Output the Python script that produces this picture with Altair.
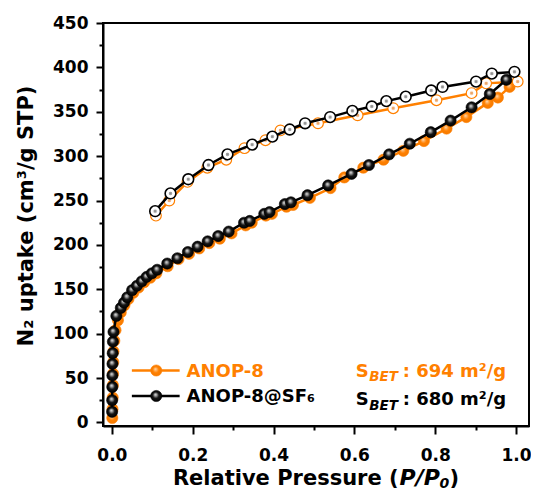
import altair as alt
import pandas as pd

ORANGE = "#ff8000"

# ---------------- data ----------------
# ANOP-8 : adsorption (filled) and desorption (open)
anop_ads_p = [0.001, 0.0015, 0.002, 0.0025, 0.003, 0.0035, 0.004, 0.006, 0.009, 0.015,
              0.022, 0.031, 0.041, 0.053, 0.066, 0.080, 0.095, 0.110, 0.138, 0.165,
              0.191, 0.216, 0.241, 0.267, 0.296, 0.331, 0.346, 0.381, 0.396, 0.432,
              0.448, 0.490, 0.541, 0.575, 0.622, 0.672, 0.721, 0.772, 0.828, 0.877,
              0.930, 0.955, 0.984]
anop_ads_v = [5, 15, 28, 42, 55, 68, 80, 92, 104, 115,
              124, 132, 139, 146, 152, 158, 163, 168, 176, 184,
              190, 196, 202, 207, 213, 222, 225, 233, 235, 243,
              245, 253, 264, 276, 287, 296, 306, 317, 331, 344,
              360, 366, 378]
anop_des_p = [1.004, 0.926, 0.890, 0.803, 0.696, 0.608, 0.510, 0.417, 0.380, 0.328,
              0.283, 0.236, 0.187, 0.142, 0.109]
anop_des_v = [384, 382, 371, 363, 354, 346, 337, 329, 318, 309,
              296, 287, 271, 250, 233]

# ANOP-8@SF6 : adsorption (filled) and desorption (open)
sf6_ads_p = [0.0005, 0.0007, 0.001, 0.0012, 0.0015, 0.002, 0.0025, 0.004, 0.011, 0.022,
             0.030, 0.038, 0.050, 0.062, 0.074, 0.086, 0.099, 0.112, 0.137, 0.162,
             0.188, 0.212, 0.237, 0.263, 0.289, 0.327, 0.341, 0.377, 0.390, 0.428,
             0.443, 0.484, 0.535, 0.593, 0.636, 0.686, 0.737, 0.789, 0.838, 0.890,
             0.935, 0.976]
sf6_ads_v = [12, 25, 40, 53, 66, 78, 91, 102, 120, 129,
             135, 141, 149, 154, 159, 164, 168, 172, 179, 185,
             192, 198, 204, 210, 215, 225, 227, 235, 237, 246,
             248, 256, 267, 280, 290, 302, 314, 327, 340, 355,
             370, 386]
sf6_des_p = [0.996, 0.940, 0.901, 0.818, 0.790, 0.727, 0.679, 0.643, 0.595, 0.540,
             0.478, 0.440, 0.397, 0.347, 0.286, 0.239, 0.189, 0.145, 0.107]
sf6_des_v = [395, 393, 384, 378, 374, 367, 362, 356, 351, 344,
             337, 330, 322, 313, 302, 290, 274, 258, 238]

x_ticks = [0.0, 0.1, 0.2, 0.3, 0.4, 0.5, 0.6, 0.7, 0.8, 0.9, 1.0]
y_ticks = list(range(0, 451, 25))

legend_names = ["ANOP-8", "ANOP-8@SF\u2086"]
bet_values = [": 694 m\u00b2/g", ": 680 m\u00b2/g"]


def branch_df(ads_p, ads_v, des_p, des_v):
    rows = []
    i = 0
    for p, v in zip(ads_p, ads_v):
        rows.append({"branch": "ads", "p": p, "v": v, "idx": i})
        i += 1
    for p, v in zip(des_p, des_v):
        rows.append({"branch": "des", "p": p, "v": v, "idx": i})
        i += 1
    return pd.DataFrame(rows)


df_a = branch_df(anop_ads_p, anop_ads_v, anop_des_p, anop_des_v)
df_s = branch_df(sf6_ads_p, sf6_ads_v, sf6_des_p, sf6_des_v)
one = pd.DataFrame({"k": [0]})

# ---------------- styles ----------------
def radial(stops, x1=0.42, y1=0.36):
    return {"gradient": "radial", "x1": x1, "y1": y1, "r1": 0,
            "x2": 0.5, "y2": 0.5, "r2": 0.5,
            "stops": [{"offset": o, "color": c} for o, c in stops]}

black_sphere = radial([(0, "#e6e6e6"), (0.22, "#a0a0a0"), (0.55, "#151515"), (1, "#000000")])
orange_sphere = radial([(0, "#ffe2bf"), (0.22, "#ffb466"), (0.55, ORANGE), (1, "#f57a00")])
black_open = radial([(0, "#8a8a8a"), (0.3, "#a6a6a6"), (0.38, "#ffffff"), (1, "#ffffff")], 0.5, 0.5)
orange_open = radial([(0, "#e8a060"), (0.3, "#f3b27a"), (0.38, "#ffffff"), (1, "#ffffff")], 0.5, 0.5)

FONT = "DejaVu Sans"
W, H = 426, 403
KX = W / 428.0  # horizontal factor for annotation positions
K = H / 403.0   # vertical factor for annotation positions

xscale = alt.Scale(domain=[-0.022, 1.032], nice=False, zero=False)
yscale = alt.Scale(domain=[-4, 450], nice=False, zero=False)

xaxis = alt.Axis(
    values=x_ticks, title=None, grid=False,
    labelExpr="round(datum.value*10) % 2 == 0 ? format(datum.value, '.1f') : ''",
    tickSize={"condition": {"test": "round(datum.value*10) % 2 == 1", "value": 4}, "value": 8},
    labelFont=FONT, labelFontWeight="bold", labelFontSize=17, labelColor="black",
    labelPadding=13, labelFlush=False, labelOverlap=False,
)
yaxis = alt.Axis(
    values=y_ticks, grid=False,
    title="N\u2082 uptake (cm\u00b3/g STP)",
    titleFont=FONT, titleFontWeight="bold", titleFontSize=21, titleColor="black",
    titleX=-77, titleY=192.5, titleAngle=270, titleBaseline="middle", titleAlign="center",
    labelExpr="datum.value % 50 == 0 ? datum.label : ''",
    tickSize={"condition": {"test": "datum.value % 50 != 0", "value": 4}, "value": 7},
    labelFont=FONT, labelFontWeight="bold", labelFontSize=17, labelColor="black",
    labelPadding=8, labelFlush=False, labelOverlap=False,
)

X = alt.X("p:Q", scale=xscale, axis=xaxis)
Y = alt.Y("v:Q", scale=yscale, axis=yaxis)


def series_layers(df, color, sphere, opencirc, open_stroke_w, sphere_stroke):
    base = alt.Chart(df)
    line = base.mark_line(color=color, strokeWidth=2.5).encode(x=X, y=Y, order=alt.Order("idx:Q"))
    ads = base.transform_filter("datum.branch == 'ads'").mark_point(
        shape="circle", filled=True, fill=sphere, stroke=sphere_stroke, strokeWidth=0.6,
        size=125, opacity=1, fillOpacity=1).encode(x=X, y=Y)
    des = base.transform_filter("datum.branch == 'des'").mark_point(
        shape="circle", filled=True, fill=opencirc, stroke=color, strokeWidth=open_stroke_w,
        size=115, opacity=1, fillOpacity=1).encode(x=X, y=Y)
    return [line, ads, des]


layers = []
layers += series_layers(df_a, ORANGE, orange_sphere, orange_open, 1.2, ORANGE)
layers += series_layers(df_s, "black", black_sphere, black_open, 1.6, "black")

# ---------------- legend / annotation (plot pixel positions) ----------------
ann = alt.Chart(one)
leg_rows = [(347.5, ORANGE, orange_sphere, legend_names[0], 353.7),
            (373.0, "black", black_sphere, legend_names[1], 378.7)]
for yy, col, sph, name, base_y in leg_rows:
    layers.append(ann.mark_rule(color=col, strokeWidth=2.5).encode(
        x=alt.value(29 * KX), x2=alt.value(77 * KX), y=alt.value(yy * K)))
    layers.append(ann.mark_point(shape="circle", filled=True, fill=sph, stroke=col,
                                 strokeWidth=0.6, size=125, opacity=1, fillOpacity=1).encode(
        x=alt.value(53.5 * KX), y=alt.value(yy * K)))
    layers.append(ann.mark_text(text=name, font=FONT, fontWeight="bold", fontSize=18,
                                color=col, align="left", baseline="alphabetic").encode(
        x=alt.value(84 * KX), y=alt.value(base_y * K)))

bet_rows = [(ORANGE, bet_values[0], 353.7, 357.5), ("black", bet_values[1], 382.0, 386.5)]
for col, txt, by, sy in bet_rows:
    layers.append(ann.mark_text(text="S", font=FONT, fontWeight="bold", fontSize=18,
                                color=col, align="left", baseline="alphabetic").encode(
        x=alt.value(254 * KX), y=alt.value(by * K)))
    layers.append(ann.mark_text(text="BET", font=FONT, fontWeight="bold", fontStyle="italic",
                                fontSize=13.5, color=col, align="left", baseline="alphabetic").encode(
        x=alt.value(254 * KX + 13.5), y=alt.value(sy * K)))
    layers.append(ann.mark_text(text=txt, font=FONT, fontWeight="bold", fontSize=18,
                                color=col, align="left", baseline="alphabetic").encode(
        x=alt.value(254 * KX + 47), y=alt.value(by * K)))

# x-axis title with italic P/P0
xt_base = 462
tx = 297 * KX
layers.append(ann.mark_text(text="Relative Pressure (", font=FONT, fontWeight="bold", fontSize=21,
                            color="black", align="right", baseline="alphabetic").encode(
    x=alt.value(tx), y=alt.value(xt_base)))
layers.append(ann.mark_text(text="P/P", font=FONT, fontWeight="bold", fontStyle="italic", fontSize=22,
                            color="black", align="left", baseline="alphabetic").encode(
    x=alt.value(tx + 1), y=alt.value(xt_base)))
layers.append(ann.mark_text(text="0", font=FONT, fontWeight="bold", fontStyle="italic", fontSize=14,
                            color="black", align="left", baseline="alphabetic").encode(
    x=alt.value(tx + 41), y=alt.value(xt_base + 3)))
layers.append(ann.mark_text(text=")", font=FONT, fontWeight="bold", fontSize=21,
                            color="black", align="left", baseline="alphabetic").encode(
    x=alt.value(tx + 51), y=alt.value(xt_base)))

chart = alt.layer(*layers).properties(
    width=W, height=H,
    autosize=alt.AutoSizeParams(type="none"),
    padding={"left": 95, "top": 15, "right": 2, "bottom": 68},
).configure_view(
    stroke="black", strokeWidth=2
).configure_axis(
    domainColor="black", domainWidth=2, tickColor="black", tickWidth=2
)

chart.save("out.html", embed_options={"renderer": "svg", "actions": False})
